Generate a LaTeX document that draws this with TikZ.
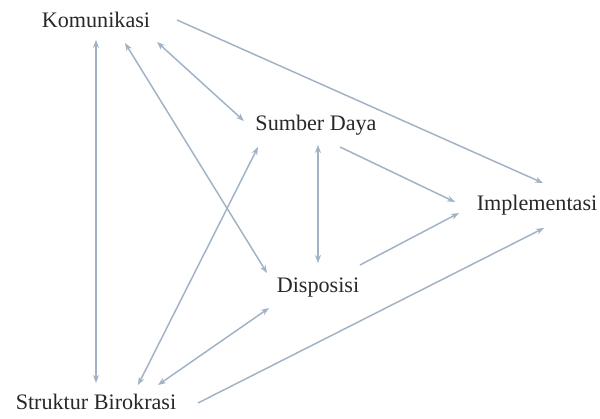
\documentclass[tikz,border=0pt]{standalone}
\usepackage{fontspec}
\setmainfont{Liberation Serif}
\usetikzlibrary{arrows.meta,calc}
\definecolor{linec}{RGB}{160,178,196}
\definecolor{txtc}{RGB}{40,40,40}
\begin{document}
\begin{tikzpicture}[x=0.75pt,y=-0.75pt,
  lbl/.style={inner sep=0pt,text=txtc,font=\fontsize{16.6pt}{18pt}\selectfont},
  conn/.style={draw=linec,line width=1.1pt},
  both/.style={conn,{Stealth[length=6pt,width=4.5pt]}-{Stealth[length=6pt,width=4.5pt]}},
  one/.style={conn,-{Stealth[length=6pt,width=4.5pt]}}]
\useasboundingbox (0,0) rectangle (600,418);
\node[lbl] (kom) at (96,20) {Komunikasi};
\node[lbl] (sd) at (316,125) {Sumber Daya};
\node[lbl] (impl) at (537,205) {Implementasi};
\node[lbl] (disp) at (318,288) {Disposisi};
\node[lbl] (sb) at (96,402) {Struktur Birokrasi};
% connectors
\draw[both] ($(kom)+(0,20)$) -- ($(sb)+(0,-19)$);
\draw[both] ($(kom)+(29,23)$) -- ($(disp)+(-51,-15)$);
\draw[both] ($(kom)+(61,22)$) -- ($(sd)+(-72,-4)$);
\draw[one] ($(kom)+(81,0)$) -- ($(impl)+(6,-22)$);
\draw[both] ($(sd)+(2,20)$) -- ($(disp)+(0,-25)$);
\draw[one] ($(sd)+(24,22)$) -- ($(impl)+(-82,-3)$);
\draw[one] ($(disp)+(42,-23)$) -- ($(impl)+(-78,8)$);
\draw[both] ($(sb)+(42,-17)$) -- ($(sd)+(-58,22)$);
\draw[both] ($(sb)+(62,-17)$) -- ($(disp)+(-49,20)$);
\draw[one] ($(sb)+(102,1)$) -- ($(impl)+(7,23)$);
\end{tikzpicture}
\end{document}
